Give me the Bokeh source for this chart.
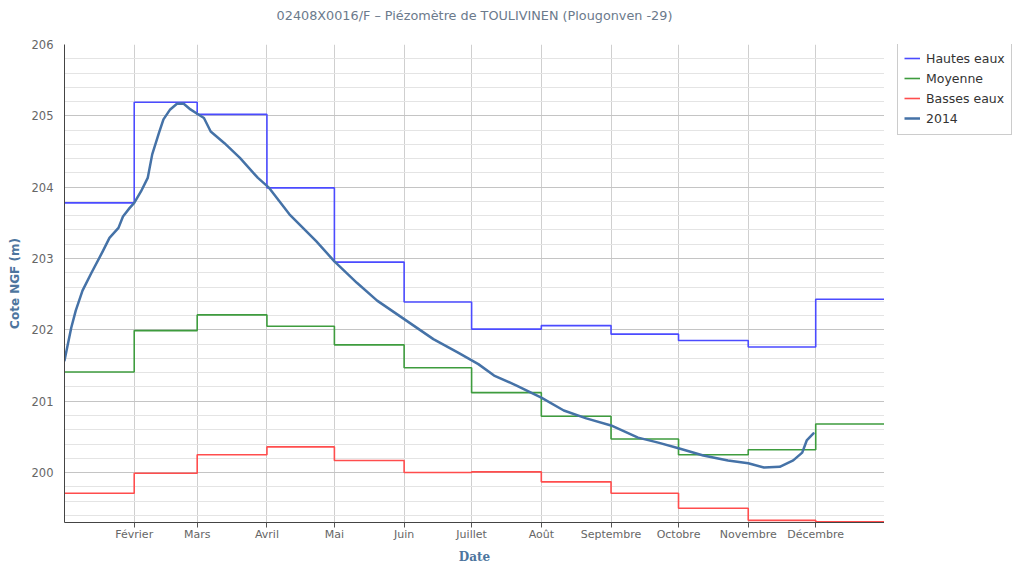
import pandas as pd
from bokeh.plotting import figure
from bokeh.layouts import row
from bokeh.models import (ColumnDataSource, FixedTicker, SingleIntervalTicker,
                          Range1d, Legend, LegendItem, Title)
from bokeh.embed import file_html
from bokeh.resources import INLINE

# ---------------- data ----------------
title_text = "02408X0016/F – Piézomètre de TOULIVINEN (Plougonven -29)"

month_starts = ["2014-01-01", "2014-02-01", "2014-03-01", "2014-04-01",
                "2014-05-01", "2014-06-01", "2014-07-01", "2014-08-01",
                "2014-09-01", "2014-10-01", "2014-11-01", "2014-12-01"]
period_end = "2014-12-31T14:00:00"

hautes_eaux = [203.78, 205.19, 205.02, 203.99, 202.95, 202.39,
               202.01, 202.06, 201.94, 201.85, 201.76, 202.43]
moyenne = [201.41, 201.99, 202.21, 202.05, 201.79, 201.47,
           201.12, 200.79, 200.47, 200.25, 200.32, 200.68]
basses_eaux = [199.71, 199.99, 200.25, 200.36, 200.17, 200.00,
               200.01, 199.87, 199.71, 199.50, 199.33, 199.31]

dates_2014 = ["2014-01-01", "2014-01-04", "2014-01-06", "2014-01-09",
              "2014-01-13", "2014-01-18", "2014-01-21", "2014-01-25",
              "2014-01-27", "2014-01-30", "2014-02-01", "2014-02-04",
              "2014-02-07", "2014-02-09", "2014-02-12", "2014-02-14",
              "2014-02-17", "2014-02-20", "2014-02-23", "2014-02-26",
              "2014-03-01", "2014-03-04", "2014-03-07", "2014-03-13",
              "2014-03-20", "2014-03-28", "2014-04-02", "2014-04-11",
              "2014-04-23", "2014-05-01", "2014-05-11", "2014-05-20",
              "2014-06-02", "2014-06-14", "2014-06-25", "2014-07-04",
              "2014-07-11", "2014-07-21", "2014-08-01", "2014-08-11",
              "2014-08-21", "2014-09-01", "2014-09-13", "2014-09-22",
              "2014-10-01", "2014-10-12", "2014-10-23", "2014-11-01",
              "2014-11-08", "2014-11-15", "2014-11-21", "2014-11-25",
              "2014-11-27", "2014-11-30"]
values_2014 = [201.57, 202.03, 202.27, 202.55, 202.80, 203.10, 203.29, 203.43,
               203.59, 203.71, 203.78, 203.94, 204.13, 204.46, 204.76, 204.95,
               205.09, 205.17, 205.17, 205.09, 205.03, 204.97, 204.78, 204.62,
               204.41, 204.13, 203.99, 203.62, 203.24, 202.96, 202.66, 202.41,
               202.13, 201.87, 201.68, 201.52, 201.36, 201.22, 201.05, 200.87,
               200.76, 200.66, 200.49, 200.42, 200.34, 200.24, 200.17, 200.13,
               200.07, 200.08, 200.17, 200.28, 200.45, 200.55]

tick_dates = ["2014-02-01", "2014-03-01", "2014-04-01", "2014-05-01",
              "2014-06-01", "2014-07-01", "2014-08-01", "2014-09-01",
              "2014-10-01", "2014-11-01", "2014-12-01"]
tick_labels = ["Février", "Mars", "Avril", "Mai", "Juin", "Juillet", "Août",
               "Septembre", "Octobre", "Novembre", "Décembre"]

series_names = ["Hautes eaux", "Moyenne", "Basses eaux", "2014"]

y_min, y_max = 199.3, 206.0

# ---------------- build ----------------
step_x = pd.to_datetime(month_starts + [period_end], format="ISO8601")

def ms(d):
    return int(pd.Timestamp(d).value // 10**6)

src_h = ColumnDataSource(dict(x=step_x, y=hautes_eaux + [hautes_eaux[-1]]))
src_m = ColumnDataSource(dict(x=step_x, y=moyenne + [moyenne[-1]]))
src_b = ColumnDataSource(dict(x=step_x, y=basses_eaux + [basses_eaux[-1]]))
src_c = ColumnDataSource(dict(x=pd.to_datetime(dates_2014, format="ISO8601"), y=values_2014))

FONT = "DejaVu Sans"
COL_H, COL_M, COL_B, COL_C = "#4b4bff", "#3e9c3e", "#ff4d4d", "#4572a7"
W_STEP, W_CUR = 1.6, 2.5

p = figure(width=884, height=567, x_axis_type="datetime",
           output_backend="svg", toolbar_location=None, title=None,
           x_range=Range1d(ms(month_starts[0]), ms(period_end)),
           y_range=Range1d(y_min, y_max),
           min_border_left=64, min_border_right=0,
           min_border_top=43, min_border_bottom=45)

# spacer title (closest to the frame) then the real title above it
p.add_layout(Title(text=" ", text_font_size="13px", standoff=0), "above")
p.add_layout(Title(text=title_text, align="center", offset=14,
                   text_font=FONT, text_font_size="12.8px",
                   text_font_style="normal", text_color="#6b7a8c"), "above")

p.outline_line_color = None
p.background_fill_color = "white"
p.border_fill_color = "white"

p.step("x", "y", source=src_h, mode="after", line_color=COL_H, line_width=W_STEP)
p.step("x", "y", source=src_m, mode="after", line_color=COL_M, line_width=W_STEP)
p.step("x", "y", source=src_b, mode="after", line_color=COL_B, line_width=W_STEP)
p.line("x", "y", source=src_c, line_color=COL_C, line_width=W_CUR,
       line_join="round", line_cap="round")

# x axis
p.xaxis.ticker = FixedTicker(ticks=[ms(d) for d in tick_dates])
p.xaxis.major_label_overrides = {ms(d): lab for d, lab in zip(tick_dates, tick_labels)}
p.xaxis.axis_label = "Date"
p.xaxis.axis_label_text_font = "DejaVu Serif"
p.xaxis.axis_label_text_font_style = "bold"
p.xaxis.axis_label_text_font_size = "12px"
p.xaxis.axis_label_text_color = "#4d759e"
p.xaxis.axis_label_standoff = 6
p.xaxis.major_label_text_font = FONT
p.xaxis.major_label_text_font_size = "11px"
p.xaxis.major_label_text_color = "#666666"
p.xaxis.major_label_standoff = 0
p.xaxis.axis_line_color = "#444444"
p.xaxis.major_tick_line_color = "#555555"
p.xaxis.major_tick_out = 5
p.xaxis.major_tick_in = 0
p.xaxis.minor_tick_line_color = None
p.xaxis.minor_tick_out = 0

# y axis
p.yaxis.ticker = SingleIntervalTicker(interval=1, num_minor_ticks=5)
p.yaxis.axis_label = "Cote NGF (m)"
p.yaxis.axis_label_text_font = FONT
p.yaxis.axis_label_text_font_style = "bold"
p.yaxis.axis_label_text_font_size = "12px"
p.yaxis.axis_label_text_color = "#4d759e"
p.yaxis.axis_label_standoff = 7
p.yaxis.major_label_text_font = FONT
p.yaxis.major_label_text_font_size = "11.5px"
p.yaxis.major_label_text_color = "#666666"
p.yaxis.major_label_standoff = 11
p.yaxis.axis_line_color = "#444444"
p.yaxis.major_tick_line_color = None
p.yaxis.major_tick_out = 0
p.yaxis.major_tick_in = 0
p.yaxis.minor_tick_line_color = None
p.yaxis.minor_tick_out = 0
p.yaxis.minor_tick_in = 0

# grids
p.xgrid.grid_line_color = "#cfcfcf"
p.ygrid.grid_line_color = "#c4c4c4"
p.ygrid.minor_grid_line_color = "#e4e4e4"

# ---------------- legend panel (separate small figure on the right) ----------
pl = figure(width=129, height=567, output_backend="svg", toolbar_location=None,
            x_range=Range1d(0, 1), y_range=Range1d(0, 1),
            x_axis_location=None, y_axis_location=None,
            min_border=0, min_border_left=0, min_border_right=0,
            min_border_top=0, min_border_bottom=0)
pl.outline_line_color = None
pl.grid.visible = False
pl.border_fill_color = "white"
# off-range proxies, used only for the legend swatches
lr = [pl.line(x=[-5, -4], y=[-5, -5], line_color=c, line_width=w)
      for c, w in zip([COL_H, COL_M, COL_B, COL_C], [W_STEP, W_STEP, W_STEP, W_CUR])]

legend = Legend(items=[LegendItem(label=n, renderers=[r]) for n, r in zip(series_names, lr)],
                location=(13, 387))
legend.border_line_color = "#999999"
legend.border_line_width = 1
legend.background_fill_color = "white"
legend.background_fill_alpha = 1
legend.padding = 6
legend.spacing = 0
legend.margin = 0
legend.label_height = 20
legend.glyph_height = 20
legend.glyph_width = 16
legend.label_standoff = 6
legend.label_text_font = FONT
legend.label_text_font_size = "12.5px"
legend.label_text_color = "#333333"
pl.add_layout(legend, "center")

layout = row(p, pl, spacing=0)
open("out.html", "w").write(file_html(layout, INLINE))
